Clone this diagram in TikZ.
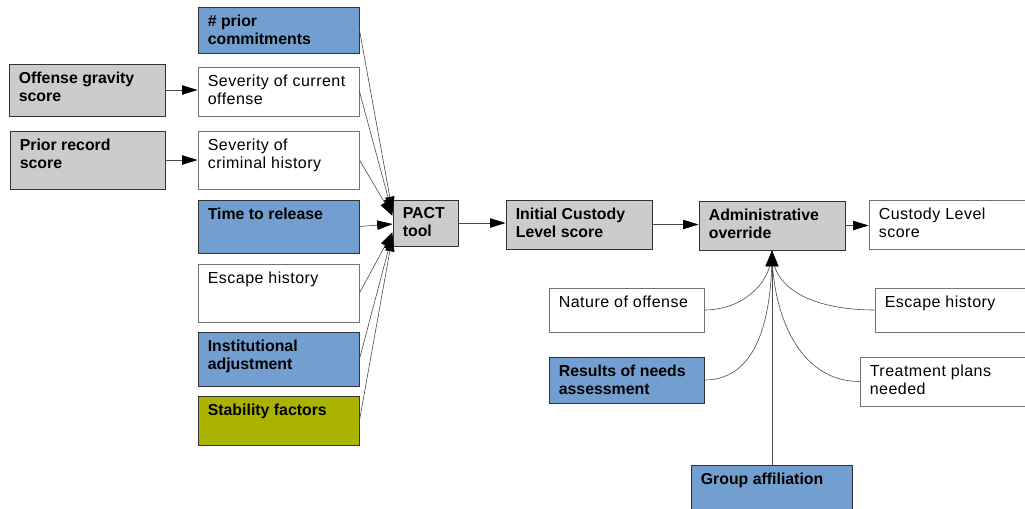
\documentclass[tikz,border=0pt]{standalone}
\usepackage{fontspec}
\setmainfont{Liberation Sans}
\newfontfamily\regf[LetterSpace=3]{Liberation Sans}
\usetikzlibrary{arrows.meta,calc,fit}
\definecolor{bluebox}{HTML}{729FCF}
\definecolor{graybox}{HTML}{CCCCCC}
\definecolor{olivebox}{HTML}{AAB400}
\tikzset{
  box/.style={draw=black!80, line width=0.7pt, inner sep=0pt, rectangle},
  wbox/.style={box, draw=black!55, fill=white},
  bbox/.style={box, fill=bluebox},
  gbox/.style={box, fill=graybox},
  obox/.style={box, fill=olivebox},
  lbl/.style={anchor=north west, inner sep=0pt, align=left, font=\regf\fontsize{12}{13.5}\selectfont},
  blbl/.style={anchor=north west, inner sep=0pt, align=left, font=\fontsize{11.9}{13.5}\selectfont\bfseries},
  conn/.style={draw=black!70, line width=0.45pt},
  arr/.style={conn, -{Triangle[length=11.5pt,width=7pt,color=black]}},
  uparr/.style={conn, -{Triangle[length=12pt,width=10pt,color=black]}},
}
\newcommand\bx[7]{%
  \node[#6, fit={(#2,#3) (#4,#5)}] (#1) {};
  \node[#7] (#1-t) at ($(#1.north west)+(10,8)$)}
\begin{document}
\begin{tikzpicture}[x=0.75pt,y=-0.75pt]
\clip (0,0) rectangle (1025,508);
\fill[white] (0,0) rectangle (1025,508);
% left column
\bx{pc}{198}{7}{359}{53}{bbox}{blbl}{\# prior\\commitments};
\bx{og}{9}{64}{165}{116}{gbox}{blbl}{Offense gravity\\score};
\bx{sc}{198}{67}{359}{116}{wbox}{lbl}{Severity of current\\offense};
\bx{pr}{10}{131}{165}{189}{gbox}{blbl}{Prior record\\score};
\bx{ch}{198}{131}{359}{189}{wbox}{lbl}{Severity of\\criminal history};
\bx{tr}{198}{200}{359}{253}{bbox}{blbl}{Time to release};
\bx{eh}{198}{264}{359}{322}{wbox}{lbl}{Escape history};
\bx{ia}{198}{332}{359}{386}{bbox}{blbl}{Institutional\\adjustment};
\bx{sf}{198}{396}{359}{445}{obox}{blbl}{Stability factors};
% main chain
\bx{pact}{393}{200}{458}{246}{gbox}{blbl}{PACT\\tool};
\bx{init}{506}{200}{652}{249}{gbox}{blbl}{Initial Custody\\Level score};
\bx{adm}{699}{201}{845}{250}{gbox}{blbl}{Administrative\\override};
\bx{cl}{869}{200}{1035}{249}{wbox}{lbl}{Custody Level\\score};
% override inputs
\bx{nat}{549}{288}{704}{332}{wbox}{lbl}{Nature of offense};
\bx{eh2}{875}{288}{1035}{332}{wbox}{lbl}{Escape history};
\bx{rna}{549}{357}{704}{403}{bbox}{blbl}{Results of needs\\assessment};
\bx{tp}{860}{357}{1035}{406}{wbox}{lbl}{Treatment plans\\needed};
\bx{ga}{691}{465}{852}{520}{bbox}{blbl}{Group affiliation};
% connectors
\draw[arr] (og.east) -- (og.east -| sc.west);
\draw[arr] (pr.east) -- (pr.east -| ch.west);
\draw[arr] (pc.east) -- ($(pact.west)+(0,-11)$);
\draw[arr] (sc.east) -- ($(pact.west)+(0,-9)$);
\draw[arr] (ch.east) -- ($(pact.west)+(0,-7)$);
\draw[arr] (tr.east) -- ($(pact.west)+(0,1)$);
\draw[arr] (eh.east) -- ($(pact.west)+(0,9)$);
\draw[arr] (ia.east) -- ($(pact.west)+(0,11)$);
\draw[arr] (sf.east) -- ($(pact.west)+(0,13)$);
\draw[arr] (pact.east) -- (pact.east -| init.west);
\draw[arr] (init.east) -- (init.east -| adm.west);
\draw[arr] (adm.east) -- (adm.east -| cl.west);
\draw[conn] (nat.east) to[out=0,in=-90] (adm.south);
\draw[conn] (rna.east) to[out=0,in=-90] (adm.south);
\draw[conn] (eh2.west) to[out=180,in=-90] (adm.south);
\draw[conn] (tp.west) to[out=180,in=-90] (adm.south);
\draw[uparr] (ga.north -| adm.south) -- (adm.south);
\end{tikzpicture}
\end{document}
